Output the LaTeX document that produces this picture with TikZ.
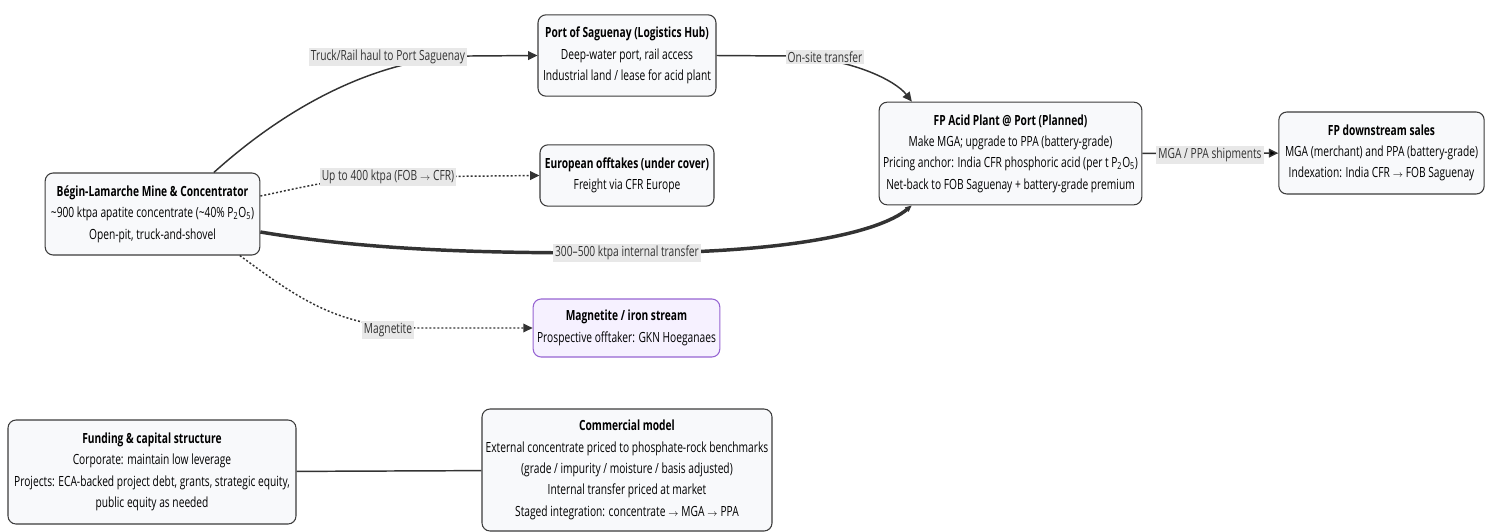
\documentclass[tikz,border=0pt]{standalone}
\usepackage{fontspec}
\setmainfont{Open Sans}[FakeStretch=0.73]
\usetikzlibrary{arrows.meta}
\definecolor{boxfill}{RGB}{248,249,251}
\definecolor{boxline}{RGB}{60,60,60}
\definecolor{linkcol}{RGB}{51,51,51}
\definecolor{lblfill}{RGB}{232,232,232}
\definecolor{magfill}{RGB}{246,241,255}
\definecolor{magline}{RGB}{150,100,210}
\newcommand{\sarr}{$\scriptstyle\rightarrow$}

\begin{document}
\begin{tikzpicture}[x=0.75pt,y=-0.75pt]
  \tikzset{box/.style = {shape=rectangle,draw=boxline,fill=boxfill,rounded corners=6pt,align=center,line width=0.8pt,inner sep=2pt,font=\fontsize{10.5}{16}\selectfont}}
  \tikzset{magbox/.style = {box,draw=magline,fill=magfill}}
  \tikzset{lbl/.style = {fill=lblfill,inner sep=1.5pt,text=black!80,font=\fontsize{10.5}{12}\selectfont}}
  \tikzset{link/.style = {draw=linkcol,line width=1.1pt,-{Triangle[length=7pt,width=6.5pt]}}}
  \tikzset{dotlink/.style = {link,dash pattern=on 1.5pt off 1.5pt}}
  \tikzset{heavylink/.style = {link,line width=2.6pt,-{Triangle[length=5pt,width=4pt]}}}
  \useasboundingbox (0,0) rectangle (1489,532);

  \node[box,minimum width=161pt,minimum height=61.5pt] (mine) at (152.5,214)
    {\textbf{Bégin-Lamarche Mine \& Concentrator}\\\textasciitilde900 ktpa apatite concentrate (\textasciitilde40\% P\textsubscript{2}O\textsubscript{5})\\Open-pit, truck-and-shovel};
  \node[box,minimum width=133.5pt,minimum height=61pt] (port) at (627,55.5)
    {\textbf{Port of Saguenay (Logistics Hub)}\\Deep-water port, rail access\\Industrial land / lease for acid plant};
  \node[box,minimum width=130.5pt,minimum height=46pt] (euro) at (627,175.5)
    {\textbf{European offtakes (under cover)}\\Freight via CFR Europe};
  \node[magbox,minimum width=140pt,minimum height=43.5pt] (magnet) at (626.5,328)
    {\textbf{Magnetite / iron stream}\\Prospective offtaker: GKN Hoeganaes};
  \node[box,minimum width=197pt,minimum height=77pt] (acid) at (1010.5,153.5)
    {\textbf{FP Acid Plant @ Port (Planned)}\\Make MGA; upgrade to PPA (battery-grade)\\Pricing anchor: India CFR phosphoric acid (per t P\textsubscript{2}O\textsubscript{5})\\Net-back to FOB Saguenay + battery-grade premium};
  \node[box,minimum width=154pt,minimum height=61.5pt] (sales) at (1381.5,153)
    {\textbf{FP downstream sales}\\MGA (merchant) and PPA (battery-grade)\\Indexation: India CFR \sarr{} FOB Saguenay};

  \node[box,minimum width=216pt,minimum height=78pt] (funding) at (152,472)
    {\textbf{Funding \& capital structure}\\Corporate: maintain low leverage\\Projects: ECA-backed project debt, grants, strategic equity,\\public equity as needed};
  \node[box,minimum width=217.5pt,minimum height=91.5pt] (commercial) at (627,470)
    {\textbf{Commercial model}\\External concentrate priced to phosphate-rock benchmarks\\(grade / impurity / moisture / basis adjusted)\\Internal transfer priced at market\\Staged integration: concentrate \sarr{} MGA \sarr{} PPA};

  % flows out of the mine
  \draw[link] ([xshift=46pt]mine.north) .. controls (300,95) and (390,57) .. (470,56) -- (port.west);
  \draw[dotlink] ([yshift=13.5pt]mine.east) .. controls (300,188) and (340,177) .. (390,177) -- (euro.west);
  \draw[heavylink] ([yshift=-13.5pt]mine.east) .. controls (380,252) and (500,253) .. (627,253)
    .. controls (790,253) and (880,232) .. ([xshift=-74pt]acid.south);
  \draw[dotlink] ([xshift=65.5pt]mine.south) .. controls (300,300) and (340,328) .. (420,328) -- (magnet.west);
  % port side
  \draw[link] (port.east) -- (790,56) .. controls (850,58) and (895,80) .. ([xshift=-74pt]acid.north);
  \path[link] (acid) edge (sales);
  \path[draw=linkcol,line width=1.1pt] (funding) edge (commercial);

  % labels
  \node[lbl] (haul) at (388,57) {Truck/Rail haul to Port Saguenay};
  \node[lbl] (onsite) at (825,57) {On-site transfer};
  \node[lbl] (upto) at (388,177) {Up to 400 ktpa (FOB \sarr{} CFR)};
  \node[lbl] (internal) at (627,253) {300--500 ktpa internal transfer};
  \node[lbl] (magn) at (388,330) {Magnetite};
  \node[lbl] (ship) at (1210,155) {MGA / PPA shipments};
\end{tikzpicture}
\end{document}
